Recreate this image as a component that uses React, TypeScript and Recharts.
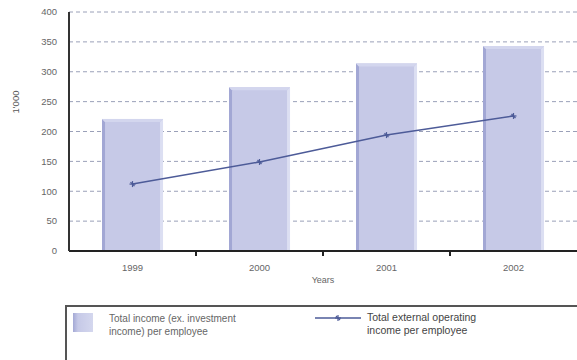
import React from 'react';
import {
  ComposedChart,
  Bar,
  Line,
  XAxis,
  YAxis,
  CartesianGrid,
} from 'recharts';

const years = ['1999', '2000', '2001', '2002'];
const totalIncome = [221, 274, 314, 343];
const externalIncome = [112, 149, 194, 226];
const yTicks = [0, 50, 100, 150, 200, 250, 300, 350, 400];

const data = years.map((year, i) => ({
  year,
  total: totalIncome[i],
  external: externalIncome[i],
}));

const FONT = '"Liberation Sans", Arial, sans-serif';
const TEXT = '#666';
const HALF_BAND = 63.5;

// bevelled bar like the old excel export
const BevelBar = (props: any) => {
  const { x, y, width, height } = props;
  if (!height || height <= 0) return null;
  const e = 3;
  return (
    <g>
      <rect x={x} y={y} width={width} height={height} fill="#c6c9e7" />
      <polygon
        points={`${x},${y} ${x + e},${y + e} ${x + e},${y + height} ${x},${y + height}`}
        fill="#a2a7d4"
      />
      <polygon
        points={`${x + width},${y} ${x + width - e},${y + e} ${x + width - e},${y + height} ${x + width},${y + height}`}
        fill="#dcdff2"
      />
      <polygon
        points={`${x},${y} ${x + width},${y} ${x + width - e},${y + e} ${x + e},${y + e}`}
        fill="#d3d6ee"
      />
    </g>
  );
};

const XTick = (props: any) => {
  const { x, y, payload, index } = props;
  return (
    <g>
      {index > 0 && (
        <line x1={x - HALF_BAND} x2={x - HALF_BAND} y1={y - 8} y2={y - 3} stroke="#222" strokeWidth={2} />
      )}
      <text x={x} y={y + 12} textAnchor="middle" fill={TEXT} fontSize={9.5} fontFamily={FONT}>
        {payload.value}
      </text>
    </g>
  );
};

const StarDot = (props: any) => {
  const { cx, cy } = props;
  if (cx == null || cy == null) return null;
  return (
    <g stroke="#4d5b98" strokeWidth={1.2}>
      <line x1={cx - 3} x2={cx + 3} y1={cy} y2={cy} />
      <line x1={cx} x2={cx} y1={cy - 3} y2={cy + 3} />
      <line x1={cx - 2} x2={cx + 2} y1={cy - 2} y2={cy + 2} />
    </g>
  );
};

export default function App() {
  return (
    <div style={{ position: 'absolute', left: 0, top: 0, width: 577, height: 360, background: '#fff', overflow: 'hidden', fontFamily: FONT }}>
      <ComposedChart
        width={577}
        height={360}
        data={data}
        margin={{ top: 12, right: 0, bottom: 69, left: 0 }}
        barCategoryGap="26%"
      >
        <CartesianGrid
          vertical={false}
          stroke="#9aa0b8"
          strokeDasharray="4 3"
          horizontalValues={yTicks.slice(1)}
        />
        <XAxis
          dataKey="year"
          axisLine={{ stroke: '#222', strokeWidth: 2 }}
          tickLine={false}
          tick={<XTick />}
          height={40}
          label={{ value: 'Years', position: 'insideBottom', offset: 8, fill: TEXT, fontSize: 9, fontFamily: FONT }}
        />
        <YAxis
          domain={[0, 400]}
          ticks={yTicks}
          width={69}
          axisLine={{ stroke: '#333', strokeWidth: 2 }}
          tickLine={false}
          tickMargin={6}
          tick={{ fill: TEXT, fontSize: 9.5, fontFamily: FONT }}
          label={{ value: "1'000", angle: -90, position: 'insideLeft', offset: 16, dy: -18, fill: '#555', fontSize: 9.5, fontFamily: FONT }}
        />
        <Bar dataKey="total" shape={<BevelBar />} isAnimationActive={false} />
        <Line
          dataKey="external"
          type="linear"
          stroke="#4d5b98"
          strokeWidth={1.5}
          dot={<StarDot />}
          activeDot={false}
          isAnimationActive={false}
        />
      </ComposedChart>
      <div
        style={{
          position: 'absolute',
          left: 65,
          top: 305,
          width: 530,
          height: 70,
          border: '2px solid #555',
          boxSizing: 'border-box',
        }}
      >
        <div style={{ position: 'absolute', left: 6, top: 6, width: 20, height: 19, background: 'linear-gradient(90deg, #a4a9d5 0%, #c6c9e7 25%, #d4d7ee 100%)' }} />
        <div style={{ position: 'absolute', left: 42, top: 5, width: 148, fontSize: 10, lineHeight: '13px', color: TEXT }}>
          Total income (ex. investment income) per employee
        </div>
        <svg style={{ position: 'absolute', left: 248, top: 7 }} width={46} height={8}>
          <line x1={0} x2={46} y1={4} y2={4} stroke="#4d5b98" strokeWidth={1.5} />
          <StarDot cx={23} cy={4} />
        </svg>
        <div style={{ position: 'absolute', left: 300, top: 4, width: 132, fontSize: 10.5, lineHeight: '13px', color: '#444' }}>
          Total external operating income per employee
        </div>
      </div>
    </div>
  );
}
